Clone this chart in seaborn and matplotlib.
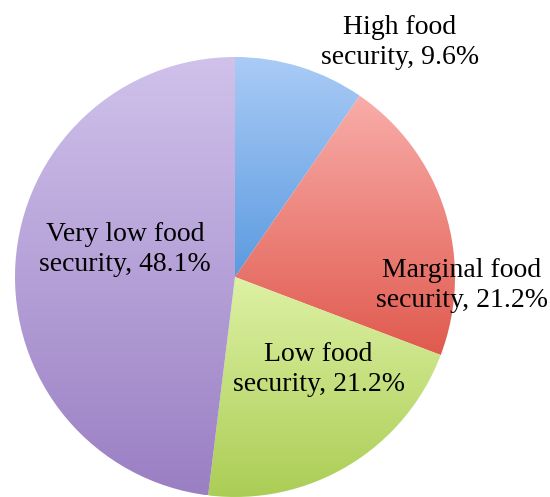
import numpy as np
import matplotlib
matplotlib.use("Agg")
import matplotlib.pyplot as plt
import seaborn as sns
from matplotlib.colors import LinearSegmentedColormap

# data
categories = ["High food\nsecurity", "Marginal food\nsecurity", "Low food\nsecurity", "Very low food\nsecurity"]
shares = [9.6, 21.2, 21.2, 48.1]

# gradient colours (top, bottom) for each slice
top_colors = ["#aacbf6", "#f9adaa", "#ddf1a4", "#d0c2eb"]
bottom_colors = ["#5b9be0", "#e05a4e", "#abcd55", "#9a7fc3"]

# label positions in data units (pie radius = 1)
label_pos = [(0.75, 1.065), (1.03, -0.04), (0.38, -0.42), (-0.50, 0.125)]

sns.set_theme(style="white")
plt.rcParams["font.family"] = ["Liberation Serif", "DejaVu Serif"]

fig = plt.figure(figsize=(5.5, 4.97), dpi=100)
ax = fig.add_axes([15 / 550, 0, 440 / 550, 440 / 497])

wedges, _ = ax.pie(shares, startangle=90, counterclock=False, radius=1,
                   wedgeprops=dict(linewidth=0))

grad = np.linspace(0, 1, 256).reshape(-1, 1)
for w, c1, c2 in zip(wedges, top_colors, bottom_colors):
    ext = w.get_path().get_extents()
    cmap = LinearSegmentedColormap.from_list("g", [c1, c2])
    im = ax.imshow(grad, cmap=cmap, aspect="auto", origin="upper",
                   extent=[ext.x0, ext.x1, ext.y0, ext.y1], zorder=2)
    im.set_clip_path(w)
    w.set_facecolor("none")

for (x, y), cat, val in zip(label_pos, categories, shares):
    ax.text(x, y, f"{cat}, {val}%", ha="center", va="center", fontsize=20,
            color="black", linespacing=1.25, clip_on=False, zorder=5)

ax.set_xlim(-1, 1)
ax.set_ylim(-1, 1)
ax.set_aspect("equal")
ax.axis("off")

fig.savefig("out.png", dpi=100)
